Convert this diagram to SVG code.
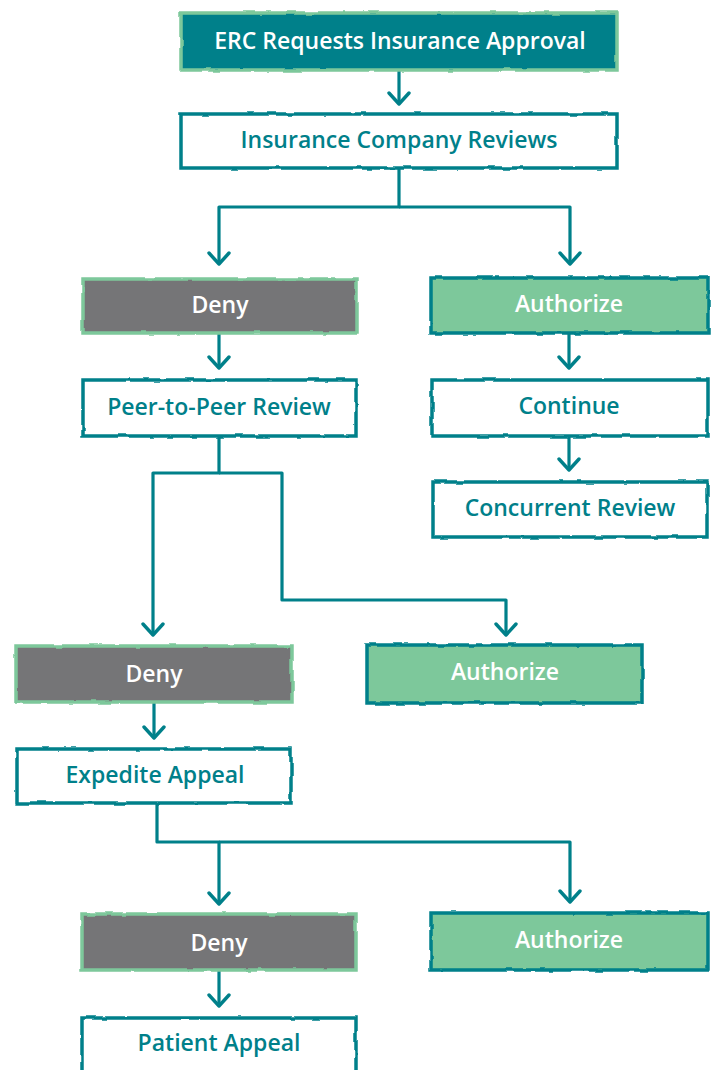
<svg xmlns="http://www.w3.org/2000/svg" width="714" height="1070" viewBox="0 0 714 1070">
<defs>
<filter id="rough" x="-5%" y="-20%" width="110%" height="140%">
<feTurbulence type="fractalNoise" baseFrequency="0.06" numOctaves="2" seed="3" result="n"/>
<feDisplacementMap in="SourceGraphic" in2="n" scale="3" xChannelSelector="R" yChannelSelector="G"/>
</filter>
<marker id="arr" markerUnits="userSpaceOnUse" markerWidth="16" markerHeight="26" viewBox="-14 -13 16 26" refX="0" refY="0" orient="auto">
<path d="M-11,-10 L0,0 L-11,10" fill="none" stroke="#00808A" stroke-width="3.4" stroke-linecap="round" stroke-linejoin="round"/>
</marker>
</defs>
<style>
.white{fill:#ffffff;stroke:#00808A;stroke-width:3.5}
.teal{fill:#00808A;stroke:#7DC89B;stroke-width:3.5}
.gray{fill:#747477;stroke:#7DC89B;stroke-width:3.5}
.green{fill:#7DC89B;stroke:#00808A;stroke-width:3.5}
text{font-family:"Open Sans",Lato,"Liberation Sans",sans-serif;font-weight:600;font-size:23px;text-anchor:middle}
.tw{fill:#ffffff}
.tt{fill:#00808A}
.conn{fill:none;stroke:#00808A;stroke-width:3.2;stroke-linejoin:round}
</style>
<g id="connectors">
<path class="conn" d="M399,70 V104" marker-end="url(#arr)"/>
<path class="conn" d="M399,168 V207 H219 V264" marker-end="url(#arr)"/>
<path class="conn" d="M399,207 H570 V264" marker-end="url(#arr)"/>
<path class="conn" d="M219,333 V368" marker-end="url(#arr)"/>
<path class="conn" d="M569,333 V368" marker-end="url(#arr)"/>
<path class="conn" d="M569,436 V470" marker-end="url(#arr)"/>
<path class="conn" d="M219,436 V473 H153 V635" marker-end="url(#arr)"/>
<path class="conn" d="M219,473 H282 V600 H506 V635" marker-end="url(#arr)"/>
<path class="conn" d="M154,702 V738" marker-end="url(#arr)"/>
<path class="conn" d="M157,803 V842 H219 V904" marker-end="url(#arr)"/>
<path class="conn" d="M219,842 H570 V902" marker-end="url(#arr)"/>
<path class="conn" d="M219,970 V1006" marker-end="url(#arr)"/>
</g>
<g id="n-erc"><rect class="teal" x="181" y="13" width="436" height="57" filter="url(#rough)"/><text class="tw" x="400" y="49">ERC Requests Insurance Approval</text></g>
<g id="n-review"><rect class="white" x="181" y="114" width="436" height="54" filter="url(#rough)"/><text class="tt" x="399" y="148">Insurance Company Reviews</text></g>
<g id="n-deny1"><rect class="gray" x="83" y="279" width="274" height="54" filter="url(#rough)"/><text class="tw" x="220" y="313">Deny</text></g>
<g id="n-auth1"><rect class="green" x="431" y="278" width="277" height="55" filter="url(#rough)"/><text class="tw" x="569" y="312">Authorize</text></g>
<g id="n-p2p"><rect class="white" x="83" y="380" width="273" height="56" filter="url(#rough)"/><text class="tt" x="219" y="415">Peer-to-Peer Review</text></g>
<g id="n-continue"><rect class="white" x="432" y="380" width="276" height="56" filter="url(#rough)"/><text class="tt" x="569" y="414">Continue</text></g>
<g id="n-concurrent"><rect class="white" x="433" y="482" width="274" height="55" filter="url(#rough)"/><text class="tt" x="570" y="516">Concurrent Review</text></g>
<g id="n-deny2"><rect class="gray" x="16" y="646" width="276" height="56" filter="url(#rough)"/><text class="tw" x="154" y="682">Deny</text></g>
<g id="n-auth2"><rect class="green" x="367" y="645" width="275" height="58" filter="url(#rough)"/><text class="tw" x="505" y="680">Authorize</text></g>
<g id="n-expedite"><rect class="white" x="17" y="749" width="274" height="54" filter="url(#rough)"/><text class="tt" x="155" y="783">Expedite Appeal</text></g>
<g id="n-deny3"><rect class="gray" x="82" y="914" width="274" height="56" filter="url(#rough)"/><text class="tw" x="219" y="951">Deny</text></g>
<g id="n-auth3"><rect class="green" x="431" y="913" width="277" height="57" filter="url(#rough)"/><text class="tw" x="569" y="948">Authorize</text></g>
<g id="n-patient"><rect class="white" x="82" y="1018" width="274" height="60" filter="url(#rough)"/><text class="tt" x="219" y="1051">Patient Appeal</text></g>
</svg>
